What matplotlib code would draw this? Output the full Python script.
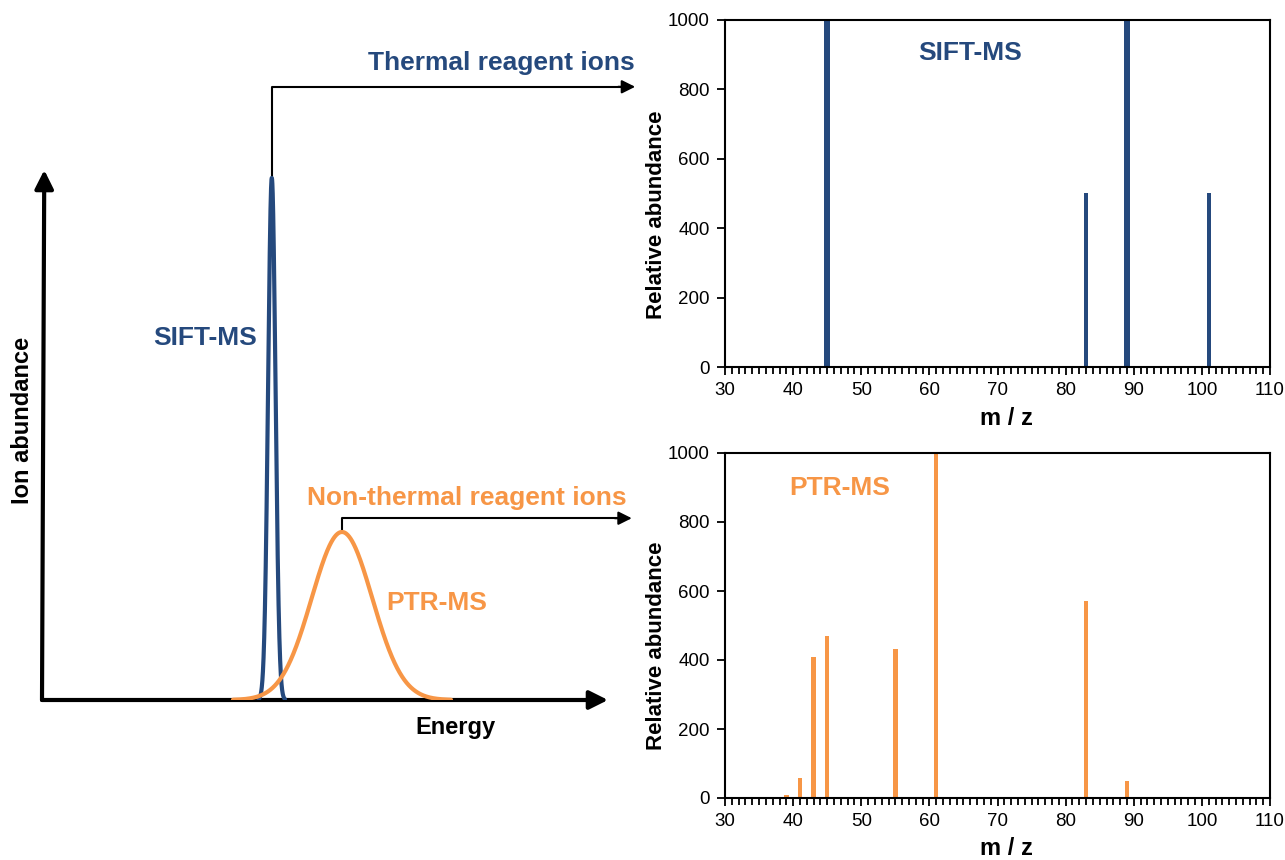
import numpy as np
import matplotlib.pyplot as plt
from matplotlib.ticker import MultipleLocator

plt.rcParams['font.family'] = ['Liberation Sans', 'DejaVu Sans']

BLUE = '#25497d'
ORANGE = '#f79646'

# schematic energy distributions (arbitrary energy units 0-100, abundance 0-1)
peak_names = ['SIFT-MS', 'PTR-MS']
peak_centers = [40.6, 53.0]
peak_sigmas = [0.65, 5.35]
peak_heights = [0.985, 0.317]

# mass spectra
sift_mz = [45, 83, 89, 101]
sift_abund = [1000, 500, 1000, 500]
sift_widths = [0.8, 0.6, 0.8, 0.6]

ptr_mz = [39, 41, 43, 45, 55, 61, 83, 89]
ptr_abund = [10, 57, 410, 470, 432, 1000, 571, 48]

mz_ticks = list(range(30, 111, 10))

fig = plt.figure(figsize=(12.85, 8.6), dpi=100)

# ---- left schematic panel ----
ax = fig.add_axes([42 / 1285, 160 / 860, 566 / 1285, 530 / 860])
ax.set_xlim(0, 100)
ax.set_ylim(0, 1)
ax.axis('off')

arrow_kw = dict(arrowstyle='-|>', lw=3, color='black', mutation_scale=28,
                shrinkA=0, shrinkB=0)
ax.annotate('', xy=(1.0, 0), xytext=(0, 0), xycoords='axes fraction',
            arrowprops=arrow_kw, zorder=1)
ax.annotate('', xy=(0.004, 1.0), xytext=(0, 0), xycoords='axes fraction',
            arrowprops=arrow_kw, zorder=1)

colors = [BLUE, ORANGE]
for c, s, h, col in zip(peak_centers, peak_sigmas, peak_heights, colors):
    e = np.linspace(c - 3.6 * s, c + 3.6 * s, 600)
    ax.plot(e, h * np.exp(-0.5 * ((e - c) / s) ** 2), color=col, lw=3,
            zorder=3, solid_capstyle='round')

# leader lines to the spectra
lead_y = [1.157, 0.343]
lead_x_end = [104.8, 104.2]
for c, h, y1, x2 in zip(peak_centers, peak_heights, lead_y, lead_x_end):
    ax.plot([c, c, x2 - 2], [h, y1, y1], color='black', lw=1.5, clip_on=False)
    ax.annotate('', xy=(x2, y1), xytext=(x2 - 3, y1),
                arrowprops=dict(arrowstyle='-|>', lw=1.5, color='black',
                                mutation_scale=20, shrinkA=0, shrinkB=0),
                annotation_clip=False)

ax.text(104.8, 1.202, 'Thermal reagent ions', color=BLUE, fontsize=19,
        fontweight='bold', ha='right', va='center')
ax.text(75.1, 0.381, 'Non-thermal reagent ions', color=ORANGE, fontsize=19,
        fontweight='bold', ha='center', va='center')
ax.text(28.8, 0.683, 'SIFT-MS', color=BLUE, fontsize=19, fontweight='bold',
        ha='center', va='center')
ax.text(69.8, 0.183, 'PTR-MS', color=ORANGE, fontsize=19, fontweight='bold',
        ha='center', va='center')
ax.text(73.0, -0.051, 'Energy', fontsize=17, fontweight='bold',
        ha='center', va='center')
ax.text(-3.5, 0.528, 'Ion abundance', fontsize=17, fontweight='bold',
        ha='center', va='center', rotation=90)


# ---- right spectra panels ----
def spectrum_axes(rect, mz, abund, widths, color, label, label_xy):
    a = fig.add_axes(rect)
    a.bar(mz, abund, width=widths, color=color, zorder=2)
    a.set_xlim(30, 110)
    a.set_ylim(0, 1000)
    a.set_xticks(mz_ticks)
    a.xaxis.set_minor_locator(MultipleLocator(1))
    a.yaxis.set_major_locator(MultipleLocator(200))
    a.tick_params(axis='both', which='major', direction='out', length=6,
                  width=1.3, labelsize=13.5, pad=5)
    a.tick_params(axis='x', which='minor', direction='out', length=5, width=1.3)
    for sp in a.spines.values():
        sp.set_linewidth(1.5)
    a.set_xlabel('m / z', fontsize=17, fontweight='bold', va='center')
    a.xaxis.set_label_coords(0.517, -0.147)
    a.set_ylabel('Relative abundance', fontsize=16, fontweight='bold',
                 va='center')
    a.yaxis.set_label_coords(-0.125, 0.44)
    a.text(label_xy[0], label_xy[1], label, transform=a.transAxes,
           color=color, fontsize=19, fontweight='bold', ha='center',
           va='center')
    return a


spectrum_axes([725 / 1285, 493 / 860, 545 / 1285, 347 / 860],
              sift_mz, sift_abund, sift_widths, BLUE, 'SIFT-MS', (0.45, 0.905))
spectrum_axes([725 / 1285, 62 / 860, 545 / 1285, 345 / 860],
              ptr_mz, ptr_abund, 0.65, ORANGE, 'PTR-MS', (0.211, 0.899))

fig.savefig('out.png', dpi=100)
